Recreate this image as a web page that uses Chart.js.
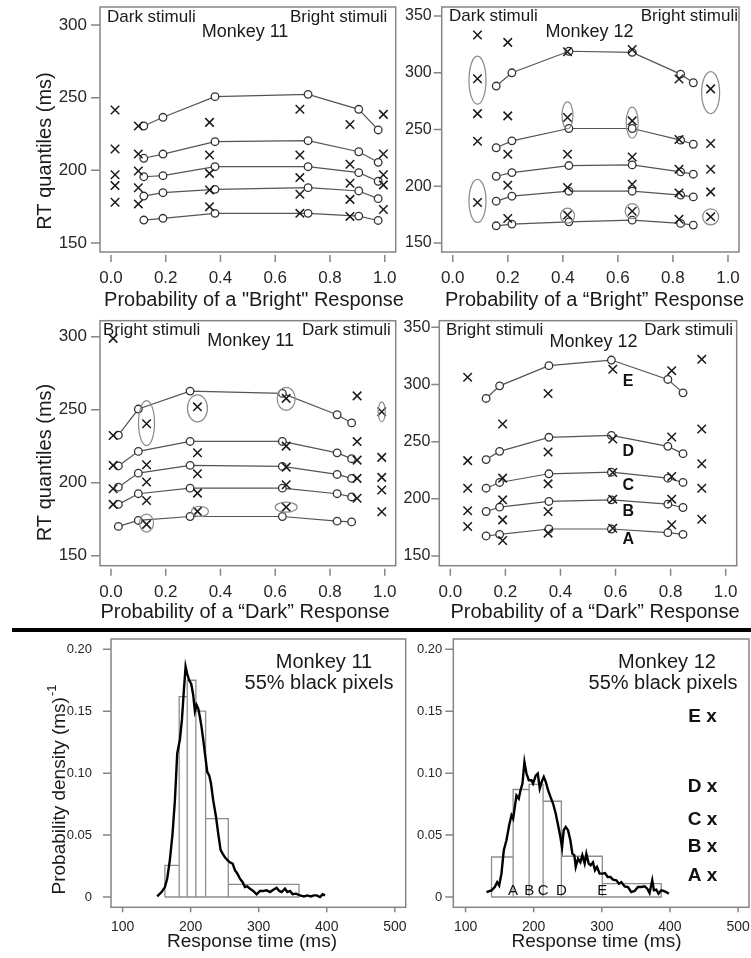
<!DOCTYPE html>
<html>
<head>
<meta charset="utf-8">
<script src="https://cdn.jsdelivr.net/npm/chart.js@4.4.1/dist/chart.umd.min.js"></script>
<style>
  html, body { margin: 0; padding: 0; background: #fff; width: 751px; height: 958px; overflow: hidden; }
  .panel { position: absolute; }
  #rule { position: absolute; left: 12px; top: 628px; width: 739px; height: 4px; background: #000; }
</style>
</head>
<body>
<div id="rule"></div>
<div class="panel"><canvas id="p1"></canvas></div>
<div class="panel"><canvas id="p2"></canvas></div>
<div class="panel"><canvas id="p3"></canvas></div>
<div class="panel"><canvas id="p4"></canvas></div>
<div class="panel"><canvas id="p5"></canvas></div>
<div class="panel"><canvas id="p6"></canvas></div>
<script>
const FONT = '"Liberation Sans", Arial, Helvetica, sans-serif';

// Ticks
const probTicks  = [0, 0.2, 0.4, 0.6, 0.8, 1.0];
const rtTicks11  = [150, 200, 250, 300];
const rtTicks12  = [150, 200, 250, 300, 350];
const densTicks  = [0, 0.05, 0.10, 0.15, 0.20];
const timeTicks  = [100, 200, 300, 400, 500];

// ── Monkey 11, P("Bright") ── rows: .1 .3 .5 .7 .9 quantiles
const m11bFitP = [0.12, 0.19, 0.38, 0.72, 0.905, 0.976];
const m11bFit = [
  [165.8, 167.0, 170.4, 170.4, 168.5, 165.5],
  [182.3, 184.6, 186.9, 188.1, 185.8, 180.5],
  [195.6, 196.3, 202.5, 202.5, 198.4, 192.5],
  [208.3, 211.2, 219.7, 220.4, 212.8, 205.5],
  [230.5, 236.5, 250.7, 252.3, 242.0, 227.8],
];
const m11bObsP = [0.015, 0.10, 0.36, 0.69, 0.873, 0.995];
const m11bObs = [
  [178.0, 176.9, 175.0, 170.4, 168.3, 173.0],
  [189.5, 188.0, 186.5, 183.5, 180.0, 190.0],
  [197.0, 199.5, 197.9, 195.0, 191.1, 197.0],
  [214.7, 211.2, 210.5, 210.5, 204.2, 211.3],
  [241.5, 230.5, 233.0, 242.0, 231.5, 238.5],
];

// ── Monkey 12, P("Bright") ──
const m12bFitP = [0.158, 0.215, 0.422, 0.652, 0.828, 0.874];
const m12bFit = [
  [165.1, 166.6, 168.6, 170.1, 167.2, 165.7],
  [186.8, 191.2, 195.6, 195.6, 192.1, 190.6],
  [208.8, 212.0, 218.2, 218.8, 212.6, 210.6],
  [233.9, 240.0, 250.9, 250.9, 240.6, 237.0],
  [288.3, 300.0, 319.0, 318.0, 298.8, 291.2],
];
const m12bObsP = [0.09, 0.20, 0.417, 0.652, 0.822, 0.937];
const m12bObs = [
  [185.6, 171.5, 174.6, 178.0, 170.8, 173.0],
  [239.7, 200.9, 198.8, 201.8, 194.1, 195.0],
  [264.0, 228.2, 228.2, 225.8, 215.0, 215.0],
  [294.7, 262.0, 260.6, 257.6, 241.2, 237.7],
  [333.3, 326.8, 318.6, 320.5, 294.5, 285.8],
];
const m12bRingP  = [0.09, 0.09, 0.417, 0.652, 0.937, 0.417, 0.652, 0.937];
const m12bRingRT = [293.5, 187.0, 262.5, 256.0, 282.5, 174.0, 178.0, 173.0];

// ── Monkey 11, P("Dark") ──
const m11dFitP = [0.027, 0.10, 0.289, 0.626, 0.826, 0.879];
const m11dFit = [
  [170.1, 174.2, 176.9, 176.9, 173.7, 173.2],
  [185.2, 192.5, 196.3, 196.3, 192.5, 190.3],
  [197.0, 206.6, 211.9, 211.2, 205.7, 203.0],
  [211.5, 221.5, 228.3, 228.3, 220.5, 216.5],
  [232.6, 250.5, 262.8, 261.2, 246.6, 241.0],
];
const m11dObsP = [0.008, 0.13, 0.316, 0.64, 0.899, 0.989];
const m11dObs = [
  [185.2, 171.5, 180.4, 183.3, 189.4, 180.1],
  [195.9, 187.9, 192.9, 198.6, 203.0, 195.0],
  [211.9, 200.5, 206.2, 210.7, 215.5, 203.7],
  [232.4, 212.3, 220.5, 225.1, 228.2, 217.4],
  [298.9, 240.4, 252.0, 257.8, 259.5, 248.6],
];
const m11dRingP  = [0.13, 0.316, 0.64, 0.13, 0.325, 0.64, 0.989];
const m11dRingRT = [240.9, 251.0, 257.5, 172.4, 180.4, 183.3, 248.6];

// ── Monkey 12, P("Dark") ── rows A..E
const m12dFitP = [0.13, 0.179, 0.358, 0.585, 0.79, 0.845];
const m12dFit = [
  [167.5, 168.9, 173.6, 173.6, 170.4, 168.9],
  [188.9, 192.7, 197.7, 199.1, 195.3, 192.4],
  [209.3, 214.3, 221.9, 223.3, 218.1, 214.3],
  [234.3, 241.5, 253.8, 255.5, 245.9, 239.5],
  [287.8, 298.8, 316.5, 321.4, 304.4, 292.7],
];
const m12dObsP = [0.063, 0.19, 0.355, 0.59, 0.804, 0.913];
const m12dObs = [
  [175.8, 163.6, 170.0, 174.3, 177.3, 182.2],
  [189.5, 181.6, 188.9, 199.7, 199.7, 209.3],
  [209.3, 199.1, 213.1, 223.0, 219.5, 230.7],
  [233.4, 218.1, 241.0, 252.3, 254.1, 261.1],
  [306.3, 265.5, 292.1, 313.3, 312.1, 322.0],
];
const quantLetters = ['A', 'B', 'C', 'D', 'E'];
const m12dLetterP  = [0.646, 0.646, 0.646, 0.646, 0.646];
const m12dLetterRT = [164.1, 188.9, 211.7, 241.0, 302.6];

// ── RT distributions, 55% black pixels ──
const m11Edges = [162.2, 183.2, 195.0, 207.7, 222.0, 255.3, 359.2];
const m11Hist  = [0.0256, 0.1617, 0.175, 0.150, 0.0633, 0.0102];
const m11RT = [150.9,157.3,162.2,165.6,169.5,173.4,176.9,180.3,184.2,187.2,190.1,192.6,195,197.9,200.9,203.8,206.3,208.7,211.2,213.6,216.1,218.5,221,224.4,227.4,229.8,233.2,237.2,240.6,244,247,250.4,253.8,257.7,261.7,265.1,268.5,272.5,276.4,279.8,283.2,287.2,292,297,301.9,306.8,311.7,316.6,321.5,326.4,330.3,333.7,338.6,342.1,346,349.9,354.8,360.7,366.6,371.5,376.4,381.3,385.2,390.1,394,397.5];
const m11Dens = [0.0005,0.004,0.008,0.015,0.030,0.051,0.078,0.116,0.127,0.143,0.167,0.186,0.180,0.175,0.172,0.163,0.150,0.155,0.152,0.1455,0.137,0.127,0.116,0.101,0.098,0.092,0.078,0.065,0.051,0.038,0.035,0.032,0.030,0.028,0.027,0.0216,0.019,0.0148,0.012,0.008,0.0086,0.0067,0.0049,0.0022,0.0049,0.0049,0.0054,0.004,0.0059,0.0075,0.0049,0.004,0.0067,0.004,0.0049,0.0022,0.0027,0.0013,0.0005,0.0013,0.0005,0.0013,0.0013,0,0.0022,0.0013];

const m12Edges = [138.1, 169.8, 193.3, 213.8, 240.6, 300.7, 387.2];
const m12Hist  = [0.0323, 0.0868, 0.0910, 0.0773, 0.0329, 0.0108];
const m12RT = [130.7,138.1,142.9,146.4,149.3,152.7,156.1,160,164,167.4,169.8,172.3,174.7,178.1,180.6,183.5,186.4,189.4,192.8,196.7,199.1,203,206,208.9,211.8,214.8,217.7,221.1,224.5,228.4,232.3,235.8,239.2,241.6,244.1,247,250.4,253.8,256.8,259.7,261.7,265.1,268.5,271.4,274.8,277.3,280.7,283.6,287,290,292.9,296.8,300.7,304.6,308.6,312.5,316.4,321.3,325.2,328.6,333.5,338.4,343.2,348.1,353,357.9,362.8,366.7,370.1,374,376.5,379.9,383.3,387.2,390.6,394.5,398.4];
const m12Dens = [0.004,0.0054,0.008,0.012,0.0094,0.019,0.0377,0.0458,0.058,0.066,0.0633,0.0728,0.082,0.0795,0.086,0.0916,0.109,0.0997,0.0943,0.0943,0.0916,0.098,0.0997,0.0876,0.093,0.097,0.093,0.0862,0.081,0.0755,0.0674,0.058,0.0485,0.040,0.054,0.0566,0.054,0.0458,0.035,0.0337,0.0243,0.031,0.028,0.0337,0.027,0.035,0.027,0.0256,0.028,0.0216,0.0243,0.0189,0.0189,0.0194,0.0162,0.0162,0.014,0.0135,0.0108,0.0121,0.0086,0.0081,0.004,0.0049,0.0081,0.0081,0.0086,0.0067,0.0032,0.0135,0.0054,0.0059,0.0027,0.0054,0.0049,0.004,0.0027];
// error-RT quantiles marked at the right of the Monkey 12 density panel
const m12ErrT    = [447.8, 447.8, 447.8, 447.8, 447.8];
const m12ErrDens = [0.0175, 0.0404, 0.062, 0.0889, 0.1455];

// ── styling (sizes of the highlight rings, in px) ──
const m12bRingSize = [[8.5, 24], [8.5, 21.5], [5.5, 13.5], [6, 15.5], [9, 21], [7, 7.5], [7, 7.5], [8, 8]];
const m11dRingSize = [[8, 22.5], [10, 13.5], [9, 11.5], [7, 9], [8.5, 5], [11, 5], [3.5, 10]];

// ── helpers ──
function qpDatasets(fitP, fit, obsP, obs) {
  const marks = [];
  obs.forEach(row => row.forEach((v, i) => marks.push({ x: obsP[i], y: v })));
  const sets = [{
    data: marks, showLine: false, pointStyle: 'crossRot', pointRadius: 6,
    pointBorderColor: '#1a1a1a', pointBorderWidth: 1.5, borderColor: '#1a1a1a',
  }];
  fit.forEach(row => sets.push({
    data: row.map((v, i) => ({ x: fitP[i], y: v })),
    showLine: true, borderColor: '#555', borderWidth: 1.2,
    pointStyle: 'circle', pointRadius: 3.8, pointBorderColor: '#333',
    pointBorderWidth: 1.3, pointBackgroundColor: '#fff',
  }));
  return sets;
}

function histOutline(edges, heights) {
  const pts = [{ x: edges[0], y: 0 }];
  heights.forEach((h, i) => pts.push({ x: edges[i], y: h }, { x: edges[i + 1], y: h }, { x: edges[i + 1], y: 0 }));
  pts.push({ x: edges[0], y: 0 });
  return pts;
}

function densDatasets(rt, dens, edges, hist) {
  return [
    { data: rt.map((t, i) => ({ x: t, y: dens[i] })), showLine: true, borderColor: '#000', borderWidth: 2.4, pointRadius: 0 },
    { data: histOutline(edges, hist), showLine: true, borderColor: '#8c8c8c', borderWidth: 1.3, pointRadius: 0 },
  ];
}

function drawText(ctx, s, x, y) {
  ctx.save();
  ctx.translate(x, y);
  if (s.rot) ctx.rotate(-Math.PI / 2);
  ctx.fillStyle = s.color || '#1a1a1a';
  ctx.textBaseline = 'middle';
  const f = (sz) => `${s.bold ? 'bold ' : ''}${sz}px ${FONT}`;
  if (s.sup) {
    ctx.font = f(s.size);
    const w1 = ctx.measureText(s.t).width;
    ctx.font = f(Math.round(s.size * 0.68));
    const w2 = ctx.measureText(s.sup).width;
    const x0 = -(w1 + w2) / 2;
    ctx.textAlign = 'left';
    ctx.fillText(s.sup, x0 + w1 + 1, -s.size * 0.42);
    ctx.font = f(s.size);
    ctx.fillText(s.t, x0, 0);
  } else {
    ctx.font = f(s.size);
    ctx.textAlign = s.align || 'center';
    ctx.fillText(s.t, 0, 0);
  }
  ctx.restore();
}

// frame, R-style ticks, rings and text
function decorPlugin(rect, ax, deco) {
  return {
    id: 'decor',
    beforeDatasetsDraw(chart) {
      const { ctx, chartArea: a } = chart;
      const xs = chart.scales.x, ys = chart.scales.y;
      ctx.save();
      ctx.strokeStyle = '#858585';
      ctx.lineWidth = 1.5;
      ctx.strokeRect(a.left, a.top, a.right - a.left, a.bottom - a.top);
      ctx.beginPath();
      ax.x.ticks.forEach(v => {
        const px = xs.getPixelForValue(v);
        ctx.moveTo(px, a.bottom + ax.x.gap);
        ctx.lineTo(px, a.bottom + ax.x.gap + ax.x.len);
      });
      ax.y.ticks.forEach(v => {
        const py = ys.getPixelForValue(v);
        ctx.moveTo(a.left - ax.y.len, py);
        ctx.lineTo(a.left, py);
      });
      ctx.stroke();
      ctx.restore();
    },
    afterDatasetsDraw(chart) {
      const ctx = chart.ctx;
      const xs = chart.scales.x, ys = chart.scales.y;
      if (deco.rings) {
        ctx.save();
        ctx.strokeStyle = '#8a8a8a';
        ctx.lineWidth = 1.2;
        deco.rings.x.forEach((vx, i) => {
          const [rx, ry] = deco.rings.size[i];
          ctx.beginPath();
          ctx.ellipse(xs.getPixelForValue(vx), ys.getPixelForValue(deco.rings.y[i]), rx, ry, 0, 0, Math.PI * 2);
          ctx.stroke();
        });
        ctx.restore();
      }
      (deco.labels || []).forEach(l => l.x.forEach((vx, i) =>
        drawText(ctx, { t: l.text[i], size: l.size, bold: l.bold, color: '#111' }, xs.getPixelForValue(vx), ys.getPixelForValue(l.y[i]))));
      (deco.texts || []).forEach(s => drawText(ctx, s, s.x - rect.x, s.y - rect.y));
    },
  };
}

function buildPanel(id, rect, frame, ax, datasets, deco) {
  const canvas = document.getElementById(id);
  Object.assign(canvas.parentElement.style, {
    left: rect.x + 'px', top: rect.y + 'px', width: rect.w + 'px', height: rect.h + 'px',
  });
  const axis = (a, fitFn) => ({
    type: 'linear', min: a.min, max: a.max,
    grid: { display: false, drawTicks: false }, border: { display: false },
    afterBuildTicks: s => { s.ticks = a.ticks.map(v => ({ value: v })); },
    afterFit: fitFn,
    ticks: { autoSkip: false, maxRotation: 0, padding: a.pad, color: '#262626', font: { family: FONT, size: a.size }, callback: a.fmt },
  });
  return new Chart(canvas, {
    type: 'scatter',
    data: { datasets },
    options: {
      responsive: true, maintainAspectRatio: false, animation: false,
      layout: { padding: { left: 0, bottom: 0, top: frame.t - rect.y, right: rect.x + rect.w - frame.r } },
      plugins: { legend: { display: false }, tooltip: { enabled: false } },
      scales: {
        x: { ...axis(ax.x, s => { s.height = rect.y + rect.h - frame.b; }), position: 'bottom' },
        y: { ...axis(ax.y, s => { s.width = frame.l - rect.x; }), position: 'left' },
      },
    },
    plugins: [decorPlugin(rect, ax, deco)],
  });
}

const fmtProb = v => v.toFixed(1);
const fmtInt  = v => String(v);
const fmtDens = v => (v === 0 ? '0' : v.toFixed(2));
const xProb = { min: -0.04, max: 1.04, ticks: probTicks, pad: 16, size: 17, gap: 3, len: 7, fmt: fmtProb };

// ── panel 1: Monkey 11, Bright ──
buildPanel('p1', { x: 0, y: -30, w: 430, h: 345 }, { l: 100, t: 7, r: 395.7, b: 252 },
  { x: xProb, y: { min: 143.8, max: 312.4, ticks: rtTicks11, pad: 13, size: 17, len: 9, fmt: fmtInt } },
  qpDatasets(m11bFitP, m11bFit, m11bObsP, m11bObs),
  { texts: [
    { t: 'Dark stimuli', x: 107, y: 17, size: 17, align: 'left' },
    { t: 'Monkey 11', x: 245, y: 32, size: 18 },
    { t: 'Bright stimuli', x: 290, y: 17, size: 17, align: 'left' },
    { t: 'Probability of a "Bright" Response', x: 254, y: 300, size: 20 },
    { t: 'RT quantiles (ms)', x: 45, y: 151, size: 20, rot: true },
  ] });

// ── panel 2: Monkey 12, Bright ──
buildPanel('p2', { x: 380, y: -30, w: 400, h: 345 }, { l: 441.7, t: 7, r: 739, b: 252 },
  { x: xProb, y: { min: 142, max: 358, ticks: rtTicks12, pad: 10, size: 16, len: 8, fmt: fmtInt } },
  qpDatasets(m12bFitP, m12bFit, m12bObsP, m12bObs),
  { rings: { x: m12bRingP, y: m12bRingRT, size: m12bRingSize },
    texts: [
    { t: 'Dark stimuli', x: 449, y: 16, size: 17, align: 'left' },
    { t: 'Monkey 12', x: 589.5, y: 32, size: 18 },
    { t: 'Bright stimuli', x: 738, y: 16, size: 17, align: 'right' },
    { t: 'Probability of a \u201cBright\u201d Response', x: 594.5, y: 300, size: 20 },
  ] });

// ── panel 3: Monkey 11, Dark ──
buildPanel('p3', { x: 0, y: 290, w: 430, h: 340 }, { l: 100, t: 320.7, r: 395.7, b: 565.7 },
  { x: xProb, y: { min: 143.2, max: 311, ticks: rtTicks11, pad: 13, size: 17, len: 9, fmt: fmtInt } },
  qpDatasets(m11dFitP, m11dFit, m11dObsP, m11dObs),
  { rings: { x: m11dRingP, y: m11dRingRT, size: m11dRingSize },
    texts: [
    { t: 'Bright stimuli', x: 103, y: 330, size: 17, align: 'left' },
    { t: 'Monkey 11', x: 250.7, y: 341, size: 18 },
    { t: 'Dark stimuli', x: 302, y: 330, size: 17, align: 'left' },
    { t: 'Probability of a \u201cDark\u201d Response', x: 245, y: 612, size: 20 },
    { t: 'RT quantiles (ms)', x: 45, y: 462.5, size: 20, rot: true },
  ] });

// ── panel 4: Monkey 12, Dark ──
buildPanel('p4', { x: 380, y: 290, w: 400, h: 340 }, { l: 439.3, t: 320.7, r: 736.7, b: 565.7 },
  { x: xProb, y: { min: 141.5, max: 355.8, ticks: rtTicks12, pad: 9, size: 16, len: 8, fmt: fmtInt } },
  qpDatasets(m12dFitP, m12dFit, m12dObsP, m12dObs),
  { labels: [{ text: quantLetters, x: m12dLetterP, y: m12dLetterRT, size: 16, bold: true }],
    texts: [
    { t: 'Bright stimuli', x: 446, y: 330, size: 17, align: 'left' },
    { t: 'Monkey 12', x: 593.5, y: 342, size: 18 },
    { t: 'Dark stimuli', x: 733, y: 330, size: 17, align: 'right' },
    { t: 'Probability of a \u201cDark\u201d Response', x: 595, y: 612, size: 20 },
  ] });

// ── panel 5: Monkey 11 RT density ──
buildPanel('p5', { x: 0, y: 600, w: 430, h: 358 }, { l: 111, t: 639, r: 405.7, b: 907.3 },
  { x: { min: 83, max: 516, ticks: timeTicks, pad: 11, size: 14, gap: 0, len: 5, fmt: fmtInt },
    y: { min: -0.0083, max: 0.2083, ticks: densTicks, pad: 19, size: 13, len: 8, fmt: fmtDens } },
  densDatasets(m11RT, m11Dens, m11Edges, m11Hist),
  { texts: [
    { t: 'Monkey 11', x: 324, y: 662, size: 20 },
    { t: '55% black pixels', x: 319, y: 683, size: 20 },
    { t: 'Response time (ms)', x: 252, y: 942, size: 19 },
    { t: 'Probability density (ms)', sup: '-1', x: 60, y: 790, size: 19, rot: true },
  ] });

// ── panel 6: Monkey 12 RT density ──
buildPanel('p6', { x: 405, y: 600, w: 400, h: 358 }, { l: 453.3, t: 639, r: 749, b: 907.3 },
  { x: { min: 82, max: 516, ticks: timeTicks, pad: 11, size: 14, gap: 0, len: 5, fmt: fmtInt },
    y: { min: -0.0083, max: 0.2083, ticks: densTicks, pad: 11, size: 13, len: 8, fmt: fmtDens } },
  densDatasets(m12RT, m12Dens, m12Edges, m12Hist),
  { labels: [
      { text: quantLetters, x: m12Edges.slice(1, 6), y: [0.0049, 0.0049, 0.0049, 0.0049, 0.0049], size: 15 },
      { text: quantLetters.map(l => l + ' x'), x: m12ErrT, y: m12ErrDens, size: 19, bold: true },
    ],
    texts: [
    { t: 'Monkey 12', x: 667, y: 662, size: 20 },
    { t: '55% black pixels', x: 663, y: 683, size: 20 },
    { t: 'Response time (ms)', x: 596.5, y: 942, size: 19 },
  ] });
</script>
</body>
</html>
